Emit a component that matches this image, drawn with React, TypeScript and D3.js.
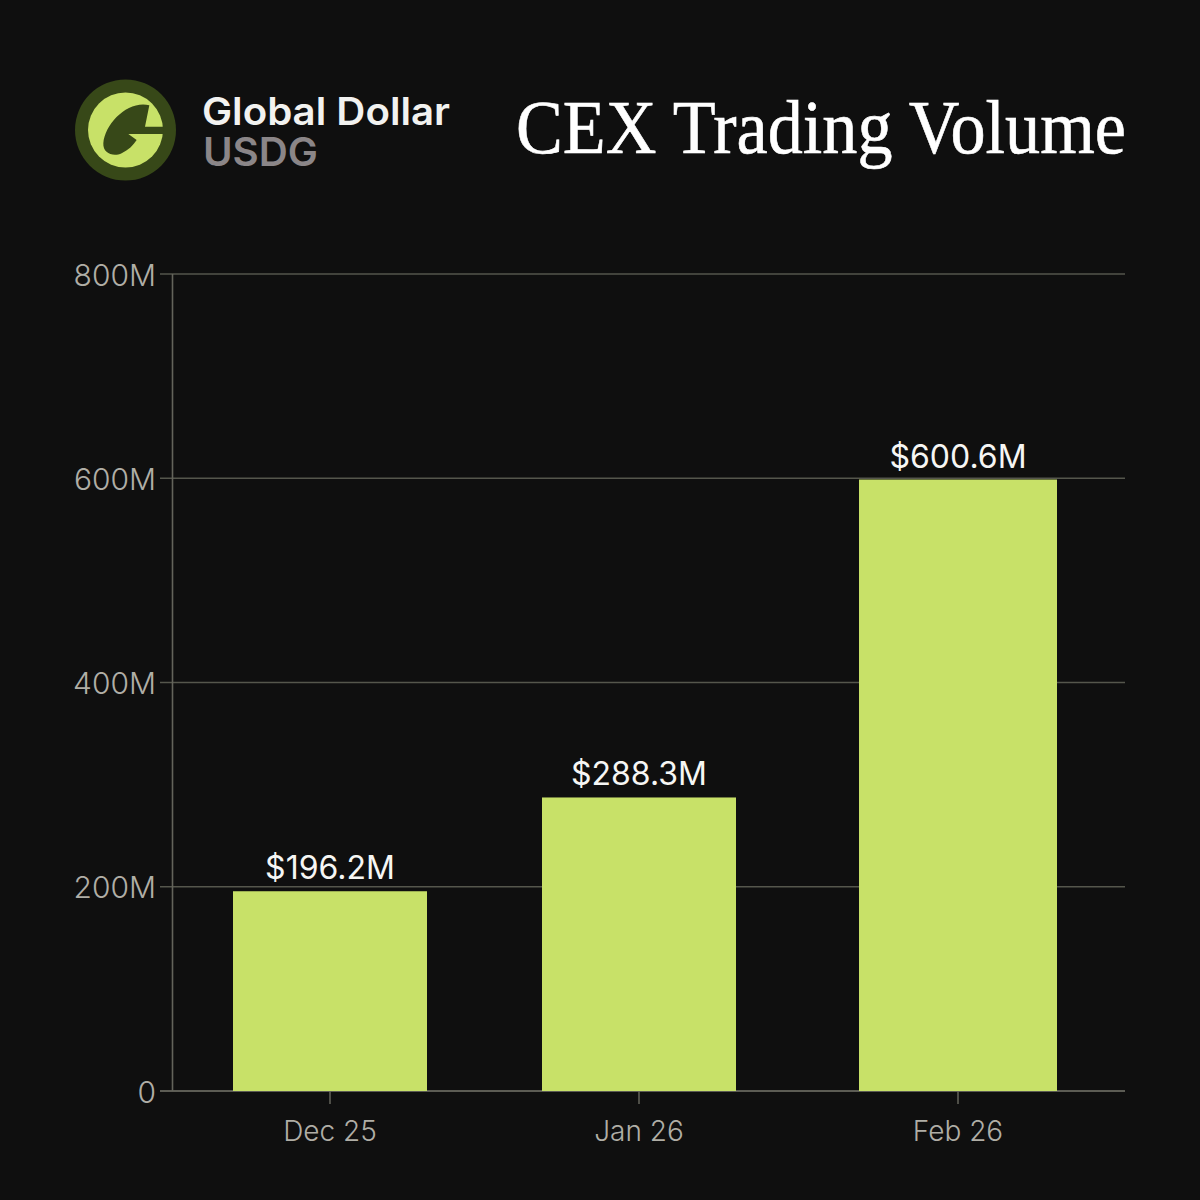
import * as d3 from 'd3';

const months = ['Dec 25', 'Jan 26', 'Feb 26'];
const volumes = [196.2, 288.3, 600.6];
const valueLabels = ['$196.2M', '$288.3M', '$600.6M'];
const yTicks = [0, 200, 400, 600, 800];
const yTickLabels = ['0', '200M', '400M', '600M', '800M'];

const SANS = 'Inter, "Liberation Sans", sans-serif';
const GREEN = '#c8e168';

export default function App() {
  const y = d3.scaleLinear().domain([0, 800]).range([1091, 274]);
  // the bars in the picture sit a touch under the gridlines' scale
  const barY = d3.scaleLinear().domain([0, 800]).range([1091, 276.5]);
  const x = d3.scaleOrdinal<string, number>().domain(months).range([330, 639, 958]);
  const barWidths = d3.scaleOrdinal<string, number>().domain(months).range([194, 194, 198]);

  return (
    <svg
      width={1200}
      height={1200}
      viewBox="0 0 1200 1200"
      style={{ position: 'absolute', left: 0, top: 0, background: '#0f0f0f' }}
    >
      <rect width={1200} height={1200} fill="#0f0f0f" />

      {/* logo */}
      <g>
        <circle cx={125.5} cy={130} r={50.5} fill="#374818" />
        <circle cx={125.5} cy={130} r={37.5} fill={GREEN} />
        <g transform="translate(60,60) scale(0.3333)">
          <path
            d="M268 136 C205 120 135 190 130 250 C128 280 160 292 185 280 C205 270 220 256 230 240 L205 222 L312 222 L312 200 L255 200 Z"
            fill="#374818"
          />
        </g>
      </g>
      <text x={202} y={124.5} fontFamily={SANS} fontSize={38} fontWeight={600} fill="#f2f2f0" textLength={248} lengthAdjust="spacingAndGlyphs">
        Global Dollar
      </text>
      <text x={203} y={165.5} fontFamily={SANS} fontSize={39} fontWeight={600} fill="#8b8688" textLength={115} lengthAdjust="spacingAndGlyphs">
        USDG
      </text>
      <text x={516} y={153} fontFamily='"Liberation Serif", serif' fontSize={76} fill="#ffffff" stroke="#ffffff" strokeWidth={0.6} textLength={610} lengthAdjust="spacingAndGlyphs">
        CEX Trading Volume
      </text>

      {/* grid and axes */}
      {yTicks.map((t, i) => (
        <g key={t}>
          <line x1={160} x2={1125} y1={y(t)} y2={y(t)} stroke={t === 0 ? '#77776c' : '#55564c'} strokeWidth={1.6} />
          <text x={156} y={y(t) + 11.5} textAnchor="end" fontFamily={SANS} fontSize={30} fontWeight={300} fill="#b0aea6">
            {yTickLabels[i]}
          </text>
        </g>
      ))}
      <line x1={172.5} x2={172.5} y1={y(800)} y2={y(0)} stroke="#64645b" strokeWidth={1.6} />

      {/* bars */}
      {months.map((m, i) => (
        <g key={m}>
          <rect
            x={x(m) - barWidths(m) / 2}
            y={barY(volumes[i])}
            width={barWidths(m)}
            height={y(0) - barY(volumes[i])}
            fill={GREEN}
          />
          <text x={x(m)} y={barY(volumes[i]) - 12} textAnchor="middle" fontFamily={SANS} fontSize={32} fill="#f6f6f4">
            {valueLabels[i]}
          </text>
          <line x1={x(m)} x2={x(m)} y1={y(0)} y2={y(0) + 13} stroke="#64645b" strokeWidth={1.5} />
          <text x={x(m)} y={1141} textAnchor="middle" fontFamily={SANS} fontSize={28} fontWeight={300} fill="#b0aea6">
            {m}
          </text>
        </g>
      ))}
    </svg>
  );
}
